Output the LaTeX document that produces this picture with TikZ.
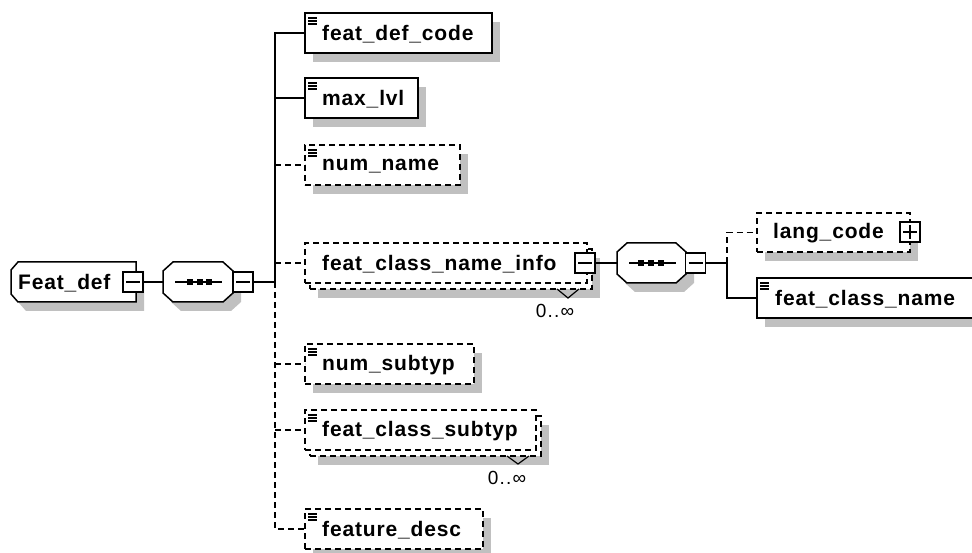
\documentclass[tikz,border=0pt]{standalone}
\usepackage{fontspec}
\setmainfont{Liberation Sans}
\newfontfamily\lblfont[LetterSpace=4]{Liberation Sans}
\newfontfamily\cntfont[LetterSpace=6]{Liberation Sans}
\usetikzlibrary{shadows}
\definecolor{shgray}{HTML}{C0C0C0}
\tikzset{
 conn/.style={line width=1.5pt},
 dsh/.style={dash pattern=on 6pt off 4pt},
 elbox/.style={draw, line width=1.5pt, fill=white, minimum height=40pt, inner sep=0pt, outer sep=0pt, anchor=west},
 optbox/.style={elbox, dsh},
 shd/.style={drop shadow={shadow xshift=8pt, shadow yshift=-9pt, fill=shgray, opacity=1}},
 lbl/.style={font=\lblfont\bfseries\fontsize{21}{24}\selectfont, inner sep=0pt, anchor=west},
 cnt/.style={font=\cntfont\fontsize{19}{21}\selectfont, inner sep=0pt},
 pmbox/.style={draw, line width=1.5pt, fill=white, minimum width=20pt, minimum height=20pt, inner sep=0pt, outer sep=0pt},
 compo/.style={draw, line width=1.5pt, fill=white, shd},
 sym/.style={line width=1.5pt},
 iconln/.style={line width=1.2pt},
}
\newcommand{\eqicon}[1]{\foreach \dy in {5,8,11} {\draw[iconln] ([shift={(3,\dy)}]#1.north west) -- ++(9,0);}}
\begin{document}
\begin{tikzpicture}[x=1pt,y=-1pt]
\useasboundingbox (0,0) rectangle (972,553);
\clip (0,0) rectangle (972,553);

% ---- global element Feat_def
\path[compo] (18,262) -- (136,262) -- (136,302) -- (18,302) -- (11,294) -- (11,270) -- cycle;
\node[lbl] (fdeft) at (18,283) {Feat\_def};
\node[pmbox] (fdmin) at (133,282) {};
\draw[sym] ([xshift=-7pt]fdmin.center) -- ([xshift=7pt]fdmin.center);

% ---- sequence 1
\path[compo] (173,262) -- (223,262) -- (233,271) -- (233,293) -- (223,302) -- (173,302) -- (163,293) -- (163,271) -- cycle;
\coordinate (s1w) at (163,282);
\draw[sym] (175,282) -- (222,282);
\foreach \xx in {189.5,199.5,209} {\fill ([shift={(-3,-3)}]\xx,282) rectangle ([shift={(3,3)}]\xx,282);}
\node[pmbox] (s1min) at (243,282) {};
\draw[sym] ([xshift=-7pt]s1min.center) -- ([xshift=7pt]s1min.center);
\coordinate (bus1) at (275,282);

% ---- children of sequence 1
\node[elbox, shd, minimum width=187pt] (fdc) at (305,33) {};
\eqicon{fdc}
\node[lbl] (fdct) at ([shift={(17,1)}]fdc.west) {feat\_def\_code};

\node[elbox, shd, minimum width=113pt] (ml) at (305,98) {};
\eqicon{ml}
\node[lbl] (mlt) at ([shift={(17,1)}]ml.west) {max\_lvl};

\node[optbox, shd, minimum width=155pt] (nn) at (305,165) {};
\eqicon{nn}
\node[lbl] (nnt) at ([shift={(17,1)}]nn.west) {num\_name};

\node[optbox, shd, minimum width=282pt] (fcnib) at (310,269) {};
\node[optbox, minimum width=282pt] (fcni) at (305,263) {};
\node[lbl] (fcnit) at ([shift={(17,1)}]fcni.west) {feat\_class\_name\_info};
\draw[line width=1.2pt] (557,289) -- (568,298) -- (579,289);
\node[cnt] (fcnic) at (555,311) {0..∞};
\node[pmbox] (fcnimin) at (585,263) {};
\draw[sym] ([xshift=-7pt]fcnimin.center) -- ([xshift=7pt]fcnimin.center);

\node[optbox, shd, minimum width=169pt] (ns) at (305,364) {};
\eqicon{ns}
\node[lbl] (nst) at ([shift={(17,1)}]ns.west) {num\_subtyp};

\node[optbox, shd, minimum width=231pt] (fcsb) at (310,436) {};
\node[optbox, minimum width=231pt] (fcs) at (305,430) {};
\eqicon{fcs}
\node[lbl] (fcst) at ([shift={(17,1)}]fcs.west) {feat\_class\_subtyp};
\draw[line width=1.2pt] (507,456) -- (518,464) -- (529,456);
\node[cnt] (fcsc) at (507,478) {0..∞};

\node[optbox, shd, minimum width=178pt] (fd) at (305,529) {};
\eqicon{fd}
\node[lbl] (fdt) at ([shift={(17,1)}]fd.west) {feature\_desc};

% ---- connectors of sequence 1
\draw[conn] (fdmin.east) -- (s1w);
\draw[conn] (s1min.east) -- (bus1);
\draw[conn] (bus1) |- (fdc.west);
\draw[conn] (bus1 |- ml.west) -- (ml.west);
\draw[conn, dsh] (bus1 |- nn.west) -- (nn.west);
\draw[conn, dsh] (bus1 |- fcni.west) -- (fcni.west);
\draw[conn, dsh] (bus1 |- ns.west) -- (ns.west);
\draw[conn, dsh] (bus1 |- fcs.west) -- (fcs.west);
\draw[conn, dsh] (bus1) |- (fd.west);

% ---- sequence 2
\path[compo] (627,243) -- (676,243) -- (686,252) -- (686,274) -- (676,283) -- (627,283) -- (617,274) -- (617,252) -- cycle;
\coordinate (s2w) at (617,263);
\draw[sym] (629,263) -- (676,263);
\foreach \xx in {641,651,661} {\fill ([shift={(-3,-3)}]\xx,263) rectangle ([shift={(3,3)}]\xx,263);}
\node[pmbox] (s2min) at (695.5,263) {};
\draw[sym] ([xshift=-7pt]s2min.center) -- ([xshift=7pt]s2min.center);
\coordinate (bus2) at (727,263);

\node[optbox, shd, minimum width=153pt, minimum height=39pt] (lc) at (757,232.5) {};
\node[lbl] (lct) at ([shift={(16,1)}]lc.west) {lang\_code};
\node[pmbox] (lcplus) at (910,232) {};
\draw[sym] ([xshift=-7pt]lcplus.center) -- ([xshift=7pt]lcplus.center);
\draw[sym] ([yshift=-7pt]lcplus.center) -- ([yshift=7pt]lcplus.center);

\node[elbox, shd, minimum width=260pt] (fcn) at (757,298) {};
\eqicon{fcn}
\node[lbl] (fcnt) at ([shift={(18,1)}]fcn.west) {feat\_class\_name};

\draw[conn] (fcnimin.east) -- (s2w);
\draw[conn] (s2min.east) -- (bus2);
\draw[conn, dsh] (bus2) |- (lc.west);
\draw[conn] (bus2) |- (fcn.west);
\end{tikzpicture}
\end{document}
